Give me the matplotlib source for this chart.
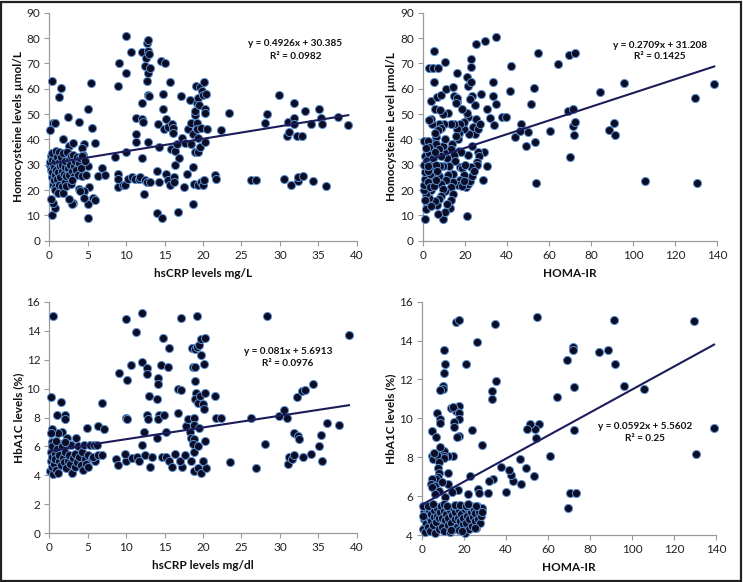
import matplotlib
matplotlib.use("Agg")
import matplotlib.pyplot as plt
from matplotlib.patches import Rectangle
import numpy as np

plt.rcParams['font.family'] = ['Lato', 'DejaVu Sans']

# ---------------- Panel A: hsCRP (mg/L) vs Homocysteine ----------------
crp_a = [0.4, 0.5, 0.8, 0.1, 1.3, 1.5, 2.4, 1.8, 2.5, 3.1, 3.8, 4.5, 4.3, 5.1, 5.4, 5.5, 5.9,
         4.4, 4.6, 5.0, 6.4, 6.8, 7.2, 5.2, 4.5, 3.8, 4.0, 5.1, 5.1, 5.7, 5.9, 4.5, 3.1, 2.9, 2.5,
         0.3, 0.7, 0.5, 0.2,
         0.1, 0.1, 0.2, 0.2, 0.3, 0.3, 0.4, 0.4, 0.5, 0.5, 0.6, 0.6, 0.7, 0.7, 0.8, 0.8, 0.9, 0.9,
         1.0, 1.0, 1.1, 1.1, 1.2, 1.2, 1.3, 1.4, 1.4, 1.5, 1.6, 1.6, 1.7, 1.8, 1.8, 1.9, 2.0, 2.0,
         2.1, 2.2, 2.2, 2.3, 2.4, 2.5, 2.6, 2.7, 2.8, 2.8, 3.0, 3.1, 3.2, 3.2, 3.4, 3.5, 3.6, 3.7,
         3.8, 4.0, 4.1, 4.2, 4.3, 4.6, 4.8, 2.9,
         8.5, 8.9, 9.1, 9.0, 9.0, 8.9, 9.6, 9.9, 10.0, 10.0, 10.0, 10.2, 10.6, 10.8, 11.2, 11.3,
         11.3, 11.3, 11.7, 11.8, 12.0, 12.1, 12.2, 12.1, 12.1, 12.3, 12.4, 12.5, 12.6, 12.7, 12.9,
         12.8, 12.7, 12.9, 13.0, 13.1, 12.8, 13.0, 12.9, 12.7, 13.1,
         14.0, 14.0, 14.2, 14.3, 14.3, 14.5, 14.7, 14.8, 14.8, 14.9, 15.1, 15.2, 15.2, 15.4, 15.4,
         15.7, 15.8, 15.7, 16.0, 16.1, 16.1, 16.2, 16.2, 16.3, 16.4, 16.6, 16.7, 16.9, 17.2, 17.3,
         17.5, 17.7, 17.9, 18.1, 18.3, 18.4, 18.5, 18.7, 18.7, 18.8, 18.7, 18.9, 19.0, 19.0, 19.1,
         19.2, 19.2, 19.2, 19.3, 19.3, 19.4, 19.4, 19.5, 19.6, 19.6, 19.7, 19.8, 19.9, 20.0, 20.0,
         20.1, 20.1, 20.2, 20.2, 20.2, 20.4, 20.5,
         21.6, 21.7, 22.3, 23.4, 26.3, 26.9, 28.1, 28.3, 29.9, 30.5, 30.9, 31.1, 31.2, 31.5, 31.8,
         31.8, 31.9, 32.2, 32.4, 32.4, 32.9, 33.0, 33.3, 34.1, 34.3, 35.1, 35.3, 35.5, 36.0, 37.6, 38.9]
hcy_a = [63, 46.6, 46.6, 43.5, 56.7, 60.4, 49, 40, 37.5, 38.5, 46.7, 38, 36.5, 52, 62.2, 44.5, 38.5,
         34, 30, 29.5, 25.5, 28.5, 26, 21, 19.5, 20.5, 19.8, 14.5, 9, 17, 16, 17, 15, 14.5, 16.5,
         10, 13, 15, 16.5,
         30, 31, 28, 33.5, 25, 27, 32, 34.5, 30, 22, 24, 29, 21, 26, 31.5, 20, 35.5, 28,
         33, 24.5, 19, 27, 31, 22, 35, 29.5, 25, 33, 27.5, 21.5, 30, 19, 34.5, 26.5, 29, 23,
         31.5, 25.5, 21.5, 35, 28.5, 32, 26, 30, 33.5, 22.5, 27.5, 34, 29.5, 25.5, 31.5, 28, 33, 26,
         30.5, 32.5, 28.5, 25.5, 33.5, 31.5, 26, 24,
         33, 61.2, 70, 26.5, 24.5, 21, 22, 22, 80.7, 66.3, 35, 24.5, 74.5, 25, 24.5, 48.5,
         42, 39, 24.5, 25, 74.5, 48, 47, 54.5, 32.5, 18.5, 69, 24, 72, 78, 79.3,
         66, 63, 75, 73.5, 68, 57.5, 57, 39, 23, 23,
         27.5, 11, 46, 37, 23, 71, 9, 58, 52, 44, 70, 48, 26.5, 45, 24,
         62.5, 36, 22, 46, 44.5, 42.5, 25, 23, 30, 35.5, 38, 11.5, 32.5, 57, 40.5,
         21, 38.5, 26.5, 44, 55.5, 38, 46.5, 14.5, 42, 22.5, 29, 49.5, 35, 51, 61,
         54.5, 46.5, 44, 22, 35, 56.5, 40.5, 53.5, 60.5, 37, 23, 44.5, 59, 57.5, 22,
         24, 62.5, 52, 50.5, 39, 58, 44,
         26, 24.5, 43.5, 50.5, 24, 24, 46.5, 50, 57.5, 24.5, 41.5, 47, 43, 22, 54.5,
         48.5, 46, 41.5, 23.5, 25, 41.5, 25.5, 51, 46, 23.5, 52, 48.5, 46, 21.7, 49, 45.5]

# ---------------- Panel B: HOMA-IR vs Homocysteine ----------------
homa_b = [1.1, 9.7, 21.1, 5.1, 2.7, 4.9, 7.0, 10.5, 5.1, 4.0, 5.9, 6.8, 8.7, 11.0, 14.3, 14.8, 16.0,
          16.0, 21.1, 21.4, 22.7, 22.9, 22.7, 25.1, 29.4, 34.6, 41.9, 41.6, 33.3, 33.2, 34.8, 32.1,
          33.8, 30.6, 27.8, 37.5, 39.5, 43.7, 46.8, 46.3, 49.0, 50.0, 51.4, 53.0, 53.3, 54.6, 54.0,
          60.6, 64.1, 69.2, 69.8, 69.4, 71.6, 71.7, 71.6, 72.2, 72.5, 84.1, 88.4, 91.1, 91.6, 95.7,
          105.6, 129.4, 130.5, 138.7,
          30.7, 28.4, 28.9, 26.1, 26.8, 25.8, 25.5, 25.1, 24.8, 24.6, 23.5, 23.9, 22.5, 21.5, 21.0,
          22.0, 21.5, 20.7, 21.5, 22.5, 23.3, 23.0, 24.4, 23.5, 26.0, 27.0, 19.5, 18.7, 19.7, 17.6,
          17.3, 16.8, 16.0, 15.5, 17.2, 18.3, 16.4, 15.6, 17.7, 18.8, 19.3, 17.5, 16.5, 18.7, 19.5,
          20.2, 14.9, 13.1, 12.0, 13.7, 13.1, 14.9, 15.4, 14.5, 14.3, 13.5, 14.5, 13.3, 12.9, 11.6,
          10.5, 12.3, 11.4, 11.8, 11.0, 10.5, 10.0, 9.5, 10.6, 9.6, 10.2, 8.2, 7.5, 8.6, 7.0,
          6.3, 5.5, 4.2, 3.8, 2.8, 4.5, 6.0, 0.5, 2.6, 7.5, 6.5, 8.8, 9.3, 8.0, 7.8,
          8.5, 9.5, 8.5, 7.6, 6.8, 7.3, 5.5, 4.0, 3.0, 2.0, 1.6, 1.0, 0.5, 0.5, 1.0,
          0.8, 0.6, 1.0, 1.7, 2.8, 3.0, 3.5, 4.6, 5.0, 4.5, 3.5, 2.3, 2.4, 3.2, 5.3,
          6.0, 6.3, 5.8, 1.5, 1.2, 3.7, 2.3, 6.8]
hcy_b = [8.4, 8.7, 9.7, 75, 68, 68, 68, 70.5, 62.6, 55, 51.8, 56.6, 57.5, 59.7, 60.5, 57.2, 54.9,
         66.3, 64.5, 61, 62.5, 71.6, 68.7, 77.8, 78.9, 80.5, 69, 59, 62.8, 57.1, 54.1, 48.3,
         45.7, 52, 58, 48.9, 48.9, 40.9, 46, 43.3, 37.4, 43, 53.8, 60.1, 39.1, 74.1, 22.8,
         43.2, 69.6, 51.1, 33, 73.2, 45.3, 41.8, 52.1, 74.1, 46.7, 58.8, 43.8, 46.6, 41.6, 62.2,
         23.7, 56.4, 22.6, 62,
         29.5, 24, 35, 35, 33.5, 31, 30, 48, 42, 53.5, 57, 45, 56, 49, 50.5,
         42, 34, 21, 22.5, 23.5, 25.5, 29, 27.5, 37.5, 44, 46, 44, 52, 47, 46,
         42.5, 40, 44, 41.5, 35.5, 35, 56.5, 54.5, 29, 28.5, 26, 24, 22, 21.5, 23.5,
         30, 46, 46, 50.5, 38, 36, 34, 31.5, 26.5, 23, 21, 18.5, 16, 13, 14.5,
         11.5, 29.5, 32.5, 26, 24, 19.5, 35, 37.5, 40, 50, 46, 51.5, 46, 44.5, 43.5,
         41, 42.5, 46, 48, 47.5, 38.5, 38, 39.5, 39.5, 36, 34, 33.5, 29.5, 29.5, 25.5,
         22.5, 20.5, 17.5, 16.5, 14, 10.5, 15.5, 20, 17, 14, 18.5, 16, 20, 22, 24.5,
         27, 30, 33.5, 32, 34.5, 37, 30, 32.5, 28.5, 25.5, 26.5, 27.5, 23, 21, 21.5,
         24, 30, 35, 36.5, 12.5, 13.5, 29.5, 27.5]

# ---------------- Panel C: hsCRP (mg/dl) vs HbA1C ----------------
crp_c = [0.5, 0.26, 1.0, 1.5, 1.6, 1.1, 0.3, 0.2, 2.0, 2.0, 2.3, 3.5, 2.5, 0.4, 1.4,
         6.3, 7.1, 6.9, 4.9,
         0.1, 0.2, 0.2, 0.3, 0.4, 0.4, 0.5, 0.6, 0.7, 0.8, 0.9, 1.0, 1.1, 1.2, 1.3, 1.5, 1.6,
         1.8, 1.9, 2.1, 2.2, 2.4, 2.6, 2.7, 2.8, 3.0, 3.1, 3.3, 3.4, 3.6, 3.7, 3.9, 4.1, 4.2,
         4.4, 4.5, 4.6, 4.8, 5.0, 5.1, 5.3, 5.5, 5.8, 6.0, 6.2, 5.7, 6.4, 6.9, 0.9, 2.0,
         8.7, 8.9, 9.1, 10.0, 10.0, 10.1, 10.1, 10.0, 9.8, 10.6, 10.8, 11.3, 11.4, 11.7, 12.0,
         12.1, 12.3, 12.1, 12.7, 12.7, 12.7, 12.9, 13.0, 13.1, 12.5, 13.3, 14.0, 14.2, 14.1,
         14.3, 14.2, 14.0, 14.5, 14.8, 14.9, 14.6, 15.2, 15.4, 15.6, 15.2, 15.6, 16.0, 16.4,
         16.7, 16.8, 17.2, 17.2, 17.3, 17.0, 17.6, 17.8, 18.0, 18.3, 18.4, 18.4, 18.6, 18.7,
         18.9, 18.9, 18.8, 18.8, 18.8, 18.7, 18.8, 18.8, 19.0, 19.1, 19.0, 19.2, 19.2, 19.3,
         19.3, 19.4, 19.5, 19.5, 19.6, 19.7, 19.8, 19.8, 20.0, 20.1, 20.1, 20.3, 20.3, 20.2,
         20.4, 20.0,
         21.6, 21.7, 22.3, 23.5, 26.3, 26.9, 28.1, 28.3, 29.9, 30.5, 30.9, 31.1, 31.2, 31.6,
         31.8, 31.9, 32.2, 32.4, 32.5, 32.9, 33.0, 33.3, 34.0, 34.3, 35.1, 35.3, 35.5, 36.2,
         37.7, 39.0]
hba_c = [15.0, 9.44, 8.17, 9.1, 7.0, 6.9, 7.2, 6.9, 8.2, 7.9, 6.6, 6.6, 6.2, 6.3, 6.2,
         7.4, 7.2, 9.0, 7.3,
         4.3, 5.0, 5.6, 4.6, 5.3, 6.0, 4.1, 4.8, 5.5, 5.1, 4.4, 5.8, 4.2, 5.0, 5.4, 4.7, 6.0,
         5.2, 4.9, 5.6, 4.5, 5.0, 5.4, 4.8, 6.1, 4.2, 5.2, 4.6, 5.5, 4.9, 6.0, 5.3, 4.7, 5.6,
         4.4, 6.1, 5.1, 4.8, 5.4, 4.6, 6.1, 5.2, 6.1, 5.0, 6.1, 5.3, 5.4, 5.4, 6.4, 6.3,
         5.1, 4.7, 11.1, 14.8, 8.0, 7.9, 10.6, 5.0, 5.5, 11.6, 5.2, 13.9, 5.3, 5.0, 15.2,
         11.8, 7.0, 6.1, 11.4, 11.0, 8.2, 7.9, 9.5, 4.6, 5.4, 5.3, 9.3, 10.7, 10.3,
         8.2, 7.9, 6.6, 11.6, 13.5, 8.2, 5.3, 7.0, 11.5, 12.8, 5.3, 5.0, 4.6, 5.5,
         10.0, 8.3, 14.9, 9.9, 4.6, 5.0, 5.4, 7.4, 7.9, 7.0, 6.6, 5.0, 12.8, 11.5,
         12.7, 10.5, 8.0, 7.5, 6.5, 6.2, 5.6, 4.3, 11.5, 9.7, 9.3, 15.0, 12.9, 9.0,
         6.0, 4.5, 13.0, 7.3, 9.5, 4.2, 13.4, 12.3, 8.9, 8.6, 11.7, 13.5, 9.7, 6.4,
         4.5, 5.0,
         9.5, 8.0, 8.0, 4.9, 8.0, 4.5, 6.2, 15.0, 8.1, 8.5, 8.0, 4.8, 5.3, 5.1,
         6.9, 5.4, 9.4, 6.7, 6.5, 9.8, 5.3, 9.9, 5.5, 10.3, 6.0, 6.8, 5.0, 7.6,
         7.5, 13.7]

# ---------------- Panel D: HOMA-IR vs HbA1C ----------------
homa_d = [16.1, 17.6, 34.7, 54.8, 91.4, 129.7, 139.1, 130.7, 105.7, 96.2, 91.9, 88.6, 84.3,
          71.7, 72.0, 69.2, 72.5, 72.2, 69.3, 70.3, 73.1, 64.5, 60.9, 55.8, 54.2, 53.6, 51.5,
          50.2, 53.1, 49.3, 46.7, 47.1, 43.2, 42.3, 41.5, 37.8, 40.1, 34.0, 32.1, 31.2, 33.4,
          33.2, 35.0, 28.6, 26.1, 20.8, 24.0, 21.9, 22.9, 26.7, 27.0,
          17.6, 16.1, 14.0, 14.8, 17.5, 17.5, 17.8, 16.7, 15.3, 15.1, 14.9, 17.0, 14.5, 12.4,
          12.6, 12.4, 10.7, 10.5, 10.5, 11.0, 10.3, 10.8, 10.7, 10.2, 10.0, 8.7, 7.0, 8.6, 8.7,
          4.6, 6.5, 8.6, 4.8, 5.4, 7.0, 5.7, 8.1, 7.8, 8.1, 7.5, 6.5, 4.9, 4.1, 6.0, 4.6, 8.0,
          6.0, 9.5,
          0.5, 0.8, 1.1, 1.3, 1.6, 1.9, 2.1, 2.4, 2.7, 3.1, 3.3, 3.8, 4.1, 4.3, 4.9, 5.3, 5.6,
          5.8, 6.4, 6.7, 7.1, 7.3, 7.9, 8.3, 8.5, 9.1, 9.4, 9.7, 10.4, 10.6, 11.1, 11.3, 11.9,
          12.3, 12.5, 13.1, 13.5, 13.7, 14.3, 14.6, 15.2, 15.5, 15.9, 16.3, 16.5, 17.2, 17.4,
          17.7, 18.3, 18.6, 19.1, 19.5, 19.7, 20.3, 20.7, 21.1, 21.3, 21.9, 22.3, 22.5, 23.1,
          23.3, 23.9, 24.1, 24.7, 25.1, 25.4, 25.9, 26.1, 26.7, 27.3, 27.6, 28.1, 28.4, 28.8,
          0.3, 0.6, 2.8, 5.0, 10.5, 12.1, 15.6, 18.0, 20.9, 22.1, 25.6, 13.8, 19.0, 25.4]
hba_d = [14.94, 15.04, 14.87, 15.21, 15.04, 14.99, 9.52, 8.15, 11.51, 11.68, 12.8, 13.5, 13.4,
         13.69, 13.51, 13.02, 11.61, 9.38, 5.37, 6.14, 6.14, 11.1, 8.06, 9.71, 9.0, 9.45, 9.69,
         9.47, 7.02, 7.46, 7.91, 6.61, 6.79, 7.09, 7.33, 7.48, 6.21, 6.9, 6.79, 6.14, 11.39,
         11.0, 11.9, 8.65, 13.94, 12.8, 9.4, 6.11, 7.05, 6.35, 6.14,
         10.62, 10.4, 10.51, 10.6, 10.27, 9.95, 9.11, 9.04, 9.81, 9.57, 8.08, 6.31, 6.21, 7.21,
         6.61, 8.08, 8.34, 8.08, 7.94, 5.97, 13.51, 12.78, 12.35, 11.68, 11.51, 11.46, 10.27, 9.97, 9.76,
         9.33, 9.04, 8.51, 8.08, 7.93, 8.1, 8.2, 7.77, 7.45, 7.17, 7.0, 6.86, 6.86, 6.61, 6.52, 6.45, 6.25,
         6.11, 6.73,
         4.3, 4.8, 5.2, 5.45, 4.15, 4.6, 5.0, 5.35, 4.4, 4.9, 5.3, 4.2, 4.7, 5.1, 5.5, 4.5, 4.95,
         5.3, 4.1, 4.65, 5.0, 5.4, 4.3, 4.85, 5.2, 5.5, 4.4, 4.9, 5.25, 4.2, 4.75, 5.1, 5.45,
         4.5, 4.9, 5.3, 4.15, 4.6, 5.05, 5.4, 4.3, 4.8, 5.2, 5.5, 4.4, 4.9, 5.3,
         4.25, 4.7, 5.1, 5.5, 4.55, 4.9, 5.35, 4.1, 4.6, 5.0, 5.4, 4.3, 4.8, 5.2,
         5.5, 4.45, 4.95, 5.3, 4.7, 5.15, 4.35, 5.5, 4.8, 5.2, 4.6, 5.0, 5.4, 5.2,
         5.0, 5.5, 5.5, 5.6, 5.6, 5.5, 5.55, 5.55, 5.5, 5.6, 5.5, 4.25, 4.2, 4.35]

# Excel trendline coefficients shown on the chart
fits = {
    'a': (0.4926, 30.385, "0.0982"),
    'b': (0.2709, 31.208, "0.1425"),
    'c': (0.081, 5.6913, "0.0976"),
    'd': (0.0592, 5.5602, "0.25"),
}
eq_text = {
    'a': "y = 0.4926x + 30.385",
    'b': "y = 0.2709x + 31.208",
    'c': "y = 0.081x + 5.6913",
    'd': "y = 0.0592x + 5.5602",
}

W, H = 743, 582
fig = plt.figure(figsize=(W / 100, H / 100), dpi=100)
fig.patch.set_facecolor('white')
fig.patches.append(Rectangle((0.0015, 0.002), 0.996, 0.995, transform=fig.transFigure,
                             fill=False, edgecolor='#222222', linewidth=1.6))

def px_axes(l, t, r, b):
    return fig.add_axes([l / W, 1 - b / H, (r - l) / W, (b - t) / H])

panels = [
    dict(key='a', x=crp_a, y=hcy_a, rect=(49.3, 12.7, 356.7, 240.7), xlim=(0, 40), xt=np.arange(0, 41, 5),
         ylim=(0, 90), yt=np.arange(0, 91, 10), xl="hsCRP levels mg/L", yl="Homocysteine levels µmol/L",
         eq=(0.80, 0.867), r2=(0.80, 0.806)),
    dict(key='b', x=homa_b, y=hcy_b, rect=(423, 12.7, 717, 240.7), xlim=(0, 140), xt=np.arange(0, 141, 20),
         ylim=(0, 90), yt=np.arange(0, 91, 10), xl="HOMA-IR", yl="Homocysteine Level µmol/L",
         eq=(0.806, 0.858), r2=(0.806, 0.806)),
    dict(key='c', x=crp_c, y=hba_c, rect=(49.3, 301.7, 356.7, 533.3), xlim=(0, 40), xt=np.arange(0, 41, 5),
         ylim=(0, 16), yt=np.arange(0, 17, 2), xl="hsCRP levels mg/dl", yl="HbA1C levels (%)",
         eq=(0.777, 0.787), r2=(0.777, 0.735)),
    dict(key='d', x=homa_d, y=hba_d, rect=(422, 301.7, 716, 535), xlim=(0, 140), xt=np.arange(0, 141, 20),
         ylim=(4, 16), yt=np.arange(4, 17, 2), xl="HOMA-IR", yl="HbA1C levels (%)",
         eq=(0.759, 0.463), r2=(0.759, 0.412)),
]

axis_col = '#9a9a9a'
for p in panels:
    ax = px_axes(*p['rect'])
    x = np.array(p['x'], dtype=float)
    y = np.array(p['y'], dtype=float)
    ax.scatter(x, y, s=34, facecolor='#0c0c24', edgecolor='#5b8fd0', linewidth=0.7, zorder=3,
               clip_on=False)
    m, c, r2 = fits[p['key']]
    xs = np.array([x.min(), x.max()])
    ax.plot(xs, m * xs + c, color='#1c1c5a', linewidth=1.5, zorder=4)
    ax.set_xlim(*p['xlim'])
    ax.set_ylim(*p['ylim'])
    ax.set_xticks(p['xt'])
    ax.set_yticks(p['yt'])
    for s in ['top', 'right']:
        ax.spines[s].set_visible(False)
    for s in ['left', 'bottom']:
        ax.spines[s].set_color(axis_col)
        ax.spines[s].set_linewidth(0.9)
    ax.tick_params(axis='both', direction='out', length=3.5, width=0.8, color=axis_col,
                   labelsize=8.5, labelcolor='#222222', pad=3)
    ax.set_xlabel(p['xl'], fontsize=8.5, fontweight='bold', color='#111111', labelpad=5)
    ax.set_ylabel(p['yl'], fontsize=8.5, fontweight='bold', color='#111111', labelpad=2)
    ax.text(p['eq'][0], p['eq'][1], eq_text[p['key']], transform=ax.transAxes, ha='center',
            va='center', fontsize=7.2, fontweight='bold', color='#111111')
    ax.text(p['r2'][0], p['r2'][1], "R² = " + r2, transform=ax.transAxes, ha='center',
            va='center', fontsize=7.2, fontweight='bold', color='#111111')

fig.savefig("out.png", dpi=100, facecolor='white')
